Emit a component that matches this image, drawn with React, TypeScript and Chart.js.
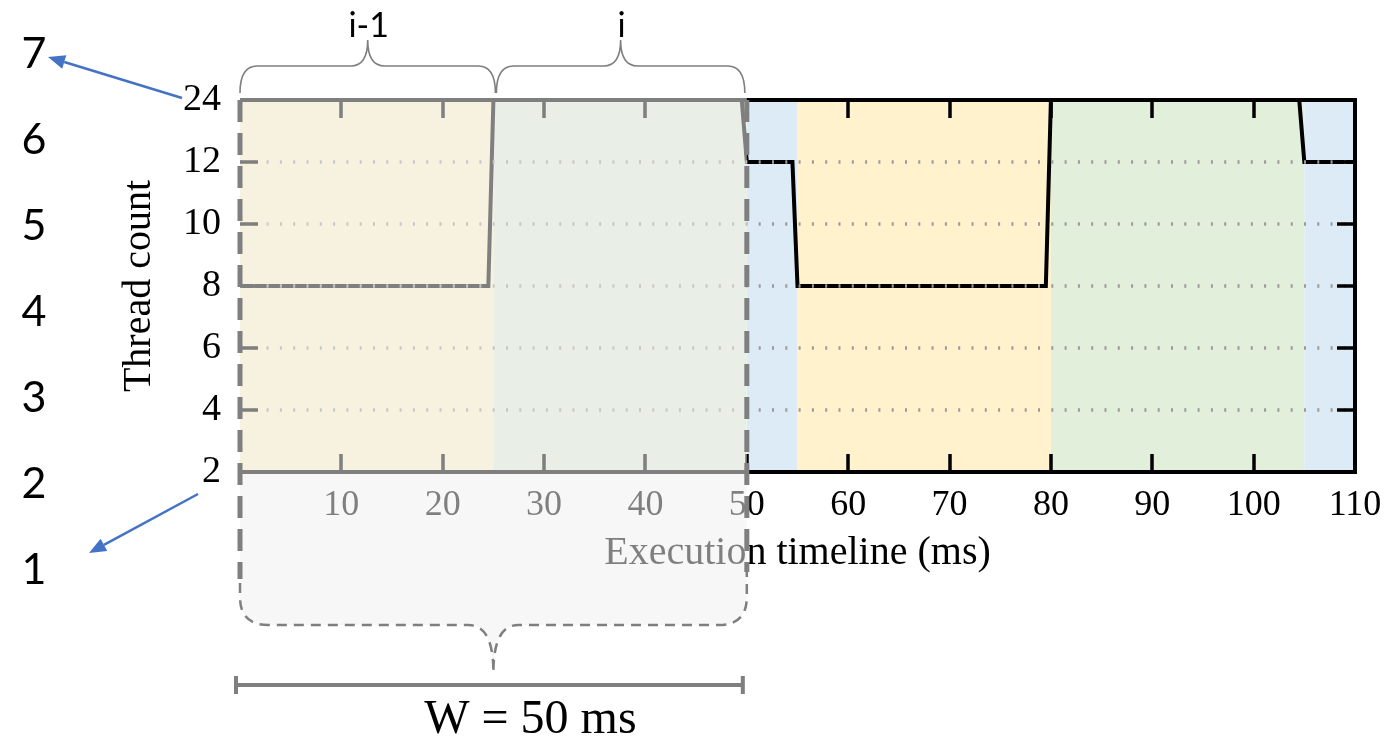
import React, { useEffect, useRef } from 'react';
import { Chart, registerables } from 'chart.js';

Chart.register(...registerables);

// ---- data ----
const threadLabels = ['24', '12', '10', '8', '6', '4', '2'];
const timeMs = [0, 24.5, 25, 49.5, 50, 54.5, 55, 79.5, 80, 104.5, 105, 110];
const threadCount = ['8', '8', '24', '24', '12', '12', '8', '8', '24', '24', '12', '12'];
const phaseStart = [0, 25, 50, 55, 80, 105];
const phaseEnd = [25, 50, 55, 80, 105, 110];
const phaseColors = ['#fff2cc', '#e2efda', '#ddebf7', '#fff2cc', '#e2efda', '#ddebf7'];
const tickMarks = [10, 20, 30, 40, 50, 60, 70, 80, 90, 100];
const windowStart = 0;
const windowEnd = 50;
const windowLabels = ['i-1', 'i'];
const windowBounds = [0, 25, 50];
const stepLabels = ['7', '6', '5', '4', '3', '2', '1'];
const windowText = 'W = 50 ms';

const SERIF = '"Liberation Serif", "Times New Roman", serif';
const SANS = 'Lato, "Open Sans", sans-serif';
const GRAY = '#7f7f7f';

function drawBrace(ctx: CanvasRenderingContext2D, x0: number, x1: number, yb: number, yh: number, ytip: number) {
  const m = (x0 + x1) / 2;
  const c = 17;
  ctx.beginPath();
  ctx.moveTo(x0, yb);
  ctx.quadraticCurveTo(x0, yh, x0 + c, yh);
  ctx.lineTo(m - c, yh);
  ctx.quadraticCurveTo(m, yh, m, ytip);
  ctx.quadraticCurveTo(m, yh, m + c, yh);
  ctx.lineTo(x1 - c, yh);
  ctx.quadraticCurveTo(x1, yh, x1, yb);
  ctx.stroke();
}

function drawArrow(ctx: CanvasRenderingContext2D, x1: number, y1: number, x2: number, y2: number) {
  const ang = Math.atan2(y2 - y1, x2 - x1);
  const hl = 17, hw = 7;
  const bx = x2 - hl * Math.cos(ang), by = y2 - hl * Math.sin(ang);
  ctx.beginPath();
  ctx.moveTo(x1, y1);
  ctx.lineTo(bx, by);
  ctx.stroke();
  ctx.beginPath();
  ctx.moveTo(x2, y2);
  ctx.lineTo(bx + hw * Math.sin(ang), by - hw * Math.cos(ang));
  ctx.lineTo(bx - hw * Math.sin(ang), by + hw * Math.cos(ang));
  ctx.closePath();
  ctx.fill();
}

const decor = {
  id: 'decor',
  beforeDatasetsDraw(chart: any) {
    const { ctx, chartArea: a, scales } = chart;
    const x = scales.x;
    ctx.save();
    phaseStart.forEach((s, i) => {
      const x0 = x.getPixelForValue(s);
      const x1 = x.getPixelForValue(phaseEnd[i]);
      ctx.fillStyle = phaseColors[i];
      ctx.fillRect(x0, a.top, x1 - x0, a.bottom - a.top);
    });
    ctx.restore();
  },
  afterDatasetsDraw(chart: any) {
    const { ctx, chartArea: a, scales } = chart;
    const x = scales.x, y = scales.y;
    ctx.save();
    // dotted grid lines (drawn over the series)
    ctx.strokeStyle = '#9a9a9a';
    ctx.lineWidth = 3.5;
    ctx.setLineDash([2, 11.3]);
    for (let i = 1; i < threadLabels.length - 1; i++) {
      const py = Math.round(y.getPixelForValue(i));
      ctx.beginPath();
      ctx.moveTo(a.left, py);
      ctx.lineTo(a.right, py);
      ctx.stroke();
    }
    ctx.setLineDash([]);
    // inward ticks
    ctx.strokeStyle = '#000';
    ctx.lineWidth = 3.5;
    const tl = 18;
    for (let i = 1; i < threadLabels.length - 1; i++) {
      const py = Math.round(y.getPixelForValue(i));
      ctx.beginPath();
      ctx.moveTo(a.left, py);
      ctx.lineTo(a.left + tl, py);
      ctx.moveTo(a.right, py);
      ctx.lineTo(a.right - tl, py);
      ctx.stroke();
    }
    tickMarks.forEach((v) => {
      const px = Math.round(x.getPixelForValue(v));
      ctx.beginPath();
      ctx.moveTo(px, a.top);
      ctx.lineTo(px, a.top + tl);
      ctx.moveTo(px, a.bottom);
      ctx.lineTo(px, a.bottom - tl);
      ctx.stroke();
    });
    // frame (top, right, bottom)
    ctx.lineWidth = 4;
    ctx.beginPath();
    ctx.moveTo(a.left, a.top);
    ctx.lineTo(a.right, a.top);
    ctx.lineTo(a.right, a.bottom);
    ctx.lineTo(a.left, a.bottom);
    ctx.stroke();
    ctx.restore();
  },
  afterDraw(chart: any) {
    const { ctx, chartArea: a, scales } = chart;
    const x = scales.x;
    ctx.save();

    // ---- sliding window overlay ----
    const L = x.getPixelForValue(windowStart);
    const R = x.getPixelForValue(windowEnd);
    const T = a.top - 2;
    const B = 625;
    const r = 28;
    const mid = (L + R) / 2;
    const tipY = B + 48;

    const outline = () => {
      ctx.lineTo(R, B - r);
      ctx.quadraticCurveTo(R, B, R - r, B);
      ctx.lineTo(mid + 25, B);
      ctx.bezierCurveTo(mid + 8, B, mid, B + 16, mid, tipY);
      ctx.bezierCurveTo(mid, B + 16, mid - 8, B, mid - 25, B);
      ctx.lineTo(L + r, B);
      ctx.quadraticCurveTo(L, B, L, B - r);
    };
    ctx.beginPath();
    ctx.moveTo(L, T);
    ctx.lineTo(R, T);
    outline();
    ctx.closePath();
    ctx.fillStyle = 'rgba(240,240,240,0.53)';
    ctx.fill();

    // thin dashed bottom outline
    ctx.strokeStyle = GRAY;
    ctx.lineWidth = 2.5;
    ctx.setLineDash([10, 7]);
    ctx.beginPath();
    ctx.moveTo(R, B - r - 30);
    outline();
    ctx.lineTo(L, B - r - 30);
    ctx.stroke();

    // thick dashed sides
    ctx.lineWidth = 5;
    ctx.setLineDash([22, 11]);
    ctx.beginPath();
    ctx.moveTo(L, a.top);
    ctx.lineTo(L, B - r - 18);
    ctx.moveTo(R, a.top);
    ctx.lineTo(R, B - r - 25);
    ctx.stroke();
    ctx.setLineDash([]);

    // ---- W bracket ----
    const wy = 685;
    const wl = L - 4, wr = R - 4;
    ctx.lineWidth = 4;
    ctx.beginPath();
    ctx.moveTo(wl, wy);
    ctx.lineTo(wr, wy);
    ctx.moveTo(wl, wy - 9);
    ctx.lineTo(wl, wy + 9);
    ctx.moveTo(wr, wy - 9);
    ctx.lineTo(wr, wy + 9);
    ctx.stroke();
    ctx.fillStyle = '#000';
    ctx.font = `48px ${SERIF}`;
    ctx.textAlign = 'center';
    ctx.textBaseline = 'alphabetic';
    ctx.fillText(windowText, (wl + wr) / 2 + 41, 733);

    // ---- top braces ----
    ctx.strokeStyle = GRAY;
    ctx.lineWidth = 1.6;
    for (let i = 0; i < windowLabels.length; i++) {
      const x0 = x.getPixelForValue(windowBounds[i]) + (i === 0 ? 0 : 3);
      const x1 = x.getPixelForValue(windowBounds[i + 1]) + (i === 0 ? 2 : -2);
      drawBrace(ctx, x0, x1, 93, 66, 40);
      ctx.fillStyle = '#000';
      ctx.font = `34px ${SANS}`;
      ctx.textAlign = 'center';
      ctx.fillText(windowLabels[i], (x0 + x1) / 2 + 1, 37);
    }

    // ---- left step numbers ----
    ctx.fillStyle = '#000';
    ctx.font = `43px ${SANS}`;
    ctx.textAlign = 'center';
    stepLabels.forEach((s, i) => {
      ctx.fillText(s, 34, 68 + i * 86);
    });

    // ---- blue arrows ----
    ctx.strokeStyle = '#4472c4';
    ctx.fillStyle = '#4472c4';
    ctx.lineWidth = 2.5;
    drawArrow(ctx, 182, 98, 48, 57);
    drawArrow(ctx, 198, 494, 89, 553);

    ctx.restore();
  },
};

export default function App() {
  const ref = useRef<HTMLCanvasElement | null>(null);
  useEffect(() => {
    if (!ref.current) return;
    const chart = new Chart(ref.current, {
      type: 'line',
      data: {
        datasets: [
          {
            data: timeMs.map((t, i) => ({ x: t, y: threadCount[i] })) as any,
            borderColor: '#000',
            borderWidth: 4,
            pointRadius: 0,
            tension: 0,
            fill: false,
            borderJoinStyle: 'miter',
            clip: false as any,
          },
        ],
      },
      options: {
        animation: false,
        responsive: false,
        devicePixelRatio: 1,
        layout: { padding: { left: 0, right: 30, top: 100, bottom: 159 } },
        plugins: { legend: { display: false }, tooltip: { enabled: false } },
        scales: {
          x: {
            type: 'linear',
            min: 0,
            max: 110,
            grid: { display: false, drawTicks: false },
            border: { display: false },
            ticks: {
              stepSize: 10,
              autoSkip: false,
              maxRotation: 0,
              padding: 12,
              color: '#000',
              font: { family: SERIF, size: 36 },
              callback: (v: any) => (Number(v) === 0 ? '' : String(v)),
            },
            title: {
              display: true,
              text: 'Execution timeline (ms)',
              color: '#000',
              font: { family: SERIF, size: 40 },
              padding: { top: 0, bottom: 0 },
            },
            afterFit: (s: any) => {
              s.height = 105;
              s.paddingLeft = 0;
              s.paddingRight = 0;
            },
          },
          y: {
            type: 'category',
            labels: threadLabels,
            offset: false,
            grid: { display: false, drawTicks: false },
            border: { display: false },
            ticks: {
              autoSkip: false,
              padding: 19,
              color: '#000',
              font: { family: SERIF, size: 38 },
            },
            title: {
              display: true,
              text: 'Thread count',
              color: '#000',
              font: { family: SERIF, size: 40 },
              padding: { top: 115, bottom: 0 },
            },
            afterFit: (s: any) => {
              s.width = 240;
              s.paddingTop = 0;
              s.paddingBottom = 0;
            },
          },
        },
      } as any,
      plugins: [decor],
    });
    return () => chart.destroy();
  }, []);
  return (
    <div style={{ position: 'fixed', left: 0, top: 0, width: 1385, height: 736, background: '#fff' }}>
      <canvas ref={ref} width={1385} height={736} />
    </div>
  );
}
